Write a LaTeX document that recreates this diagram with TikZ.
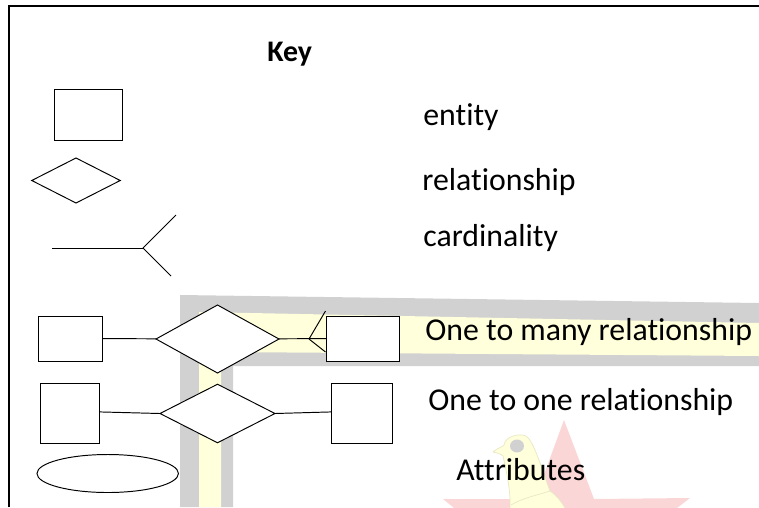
\documentclass[tikz,border=0pt]{standalone}
\usepackage{fontspec}
\setmainfont{Carlito}[RawFeature={-liga}]
\usepackage{tikz}
\usetikzlibrary{shapes}
\definecolor{wmgray}{HTML}{D1D1D1}
\definecolor{wmyellow}{HTML}{FFFFDC}
\definecolor{wmred}{HTML}{FBD6D6}
\definecolor{wmline}{HTML}{E8E8C4}
\tikzset{
  keyshape/.style={draw, fill=white, line width=0.55pt, inner sep=0pt, outer sep=0pt},
  keyline/.style={line width=0.55pt},
  keylabel/.style={anchor=base west, inner sep=0pt, font=\fontsize{18.1}{20}\selectfont},
}
\newcommand{\kdentitynode}[4] {\node at (#1) (#2) [keyshape, rectangle, minimum width={#3*0.02cm}, minimum height={#4*0.02cm}] {};}
\newcommand{\kdrelationnode}[4] {\node at (#1) (#2) [keyshape, diamond, minimum width={#3*0.02cm}, minimum height={#4*0.02cm}] {};}
\newcommand{\kdlabel}[3] {\node at (#1) (#2) [keylabel] {#3};}

\begin{document}
\begin{tikzpicture}[x=0.02cm, y=-0.02cm]
\useasboundingbox (0,0) rectangle (759,507);
\clip (0,0) rectangle (759,507);

% watermark
\fill [wmgray] (180,295) -- (759,303) -- (759,366) -- (233,366) -- (233,507) -- (180,507) -- cycle;
\fill [wmyellow] (199,312) -- (759,323) -- (759,356) -- (221,352) -- (221,507) -- (199,507) -- cycle;
\fill [wmred] (564,420) -- (594,499) -- (690,498) -- (620,552) -- (508,552) -- (443,499) -- (535,499) -- cycle;
\filldraw [wmyellow, draw=wmline, line width=0.4pt] (493,452) .. controls (499,447) and (503,447) .. (504,445)
  .. controls (505,436) and (520,433) .. (526,436) .. controls (534,441) and (542,470) .. (550,491)
  .. controls (556,495) and (562,502) .. (566,510) -- (510,510)
  .. controls (511,490) and (506,470) .. (503,456) .. controls (500,453) and (496,453) .. (493,452) -- cycle;
\draw [wmline, line width=0.4pt] (511,505) .. controls (522,498) and (538,495) .. (550,491);
\fill [wmgray] (517,446) ellipse (7 and 6.5);

% frame
\draw [line width=0.9pt] (9,507) -- (9,6) -- (759,6);

\kdlabel {267,61} {keytitle} {\fontsize{17}{20}\selectfont\textbf{Key}};

\kdentitynode {88.3,115} {keyentity} {68.5}{50.5};
\kdlabel {423,125} {entitytext} {entity};

\kdrelationnode {76,180.5} {keyrelation} {88.5}{45};
\kdlabel {422,190} {relationtext} {relationship};

\coordinate (cardstart) at (52,248);
\coordinate (cardfork) at (143,248);
\coordinate (cardup) at (176,215);
\coordinate (carddown) at (171,276);
\draw [keyline] (cardstart) -- (cardfork);
\draw [keyline] (cardfork) -- (cardup);
\draw [keyline] (cardfork) -- (carddown);
\kdlabel {423,246} {cardinalitytext} {cardinality};

\kdentitynode {70,338.5} {manyleft} {64}{45};
\kdrelationnode {217.5,339} {manyrel} {123}{68};
\kdentitynode {362.5,338.5} {manyright} {73}{45};
\draw [keyline] (manyleft) -- (manyrel);
\coordinate (crowfoot) at (309,339);
\coordinate (crowup) at (325.5,311);
\coordinate (crowdown) at (325.5,352);
\draw [keyline] (manyrel) -- (manyright);
\draw [keyline] (crowfoot) -- (crowup);
\draw [keyline] (crowfoot) -- (crowdown);
\kdlabel {425,340} {manytext} {One to many relationship};

\kdentitynode {70,413.5} {oneleft} {59}{60};
\kdrelationnode {217.5,413.5} {onerel} {115}{58.5};
\kdentitynode {362.2,413.5} {oneright} {61.5}{60};
\draw [keyline] ([yshift=0.9pt]oneleft.east) -- (onerel.west);
\draw [keyline] (onerel.east) -- ([yshift=0.9pt]oneright.west);
\kdlabel {428,410} {onetext} {One to one relationship};

\node at (107.7,473.5) (keyattribute) [keyshape, ellipse, minimum width={141.5*0.02cm}, minimum height={38*0.02cm}] {};
\kdlabel {456,480} {attributetext} {Attributes};
\end{tikzpicture}
\end{document}
